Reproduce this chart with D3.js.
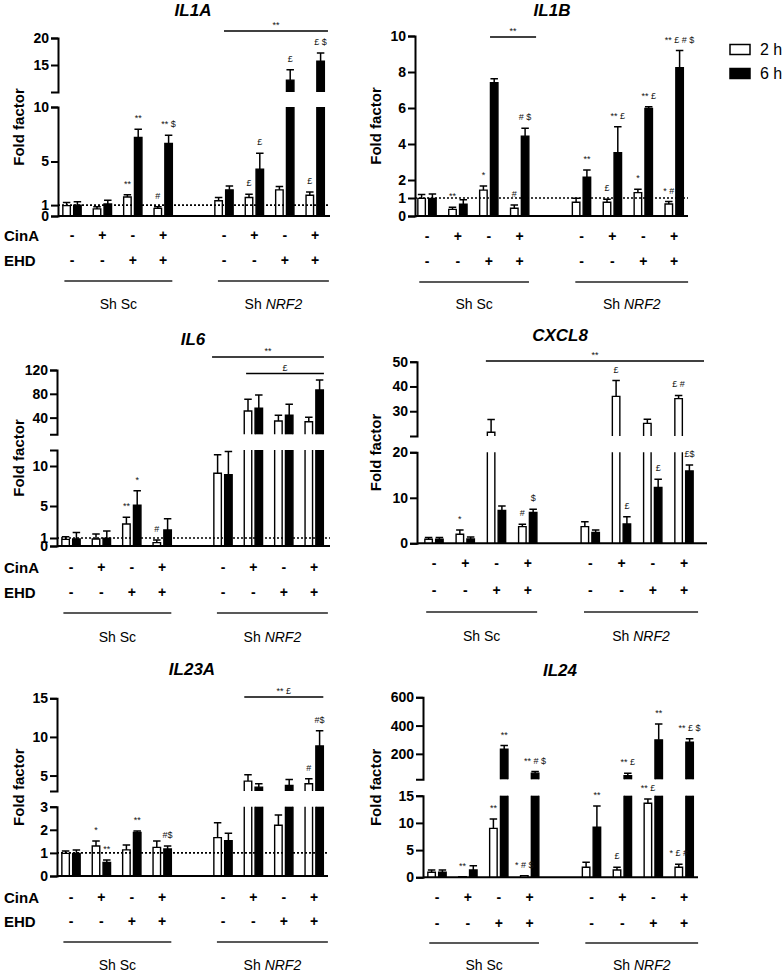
<!DOCTYPE html>
<html>
<head>
<meta charset="utf-8">
<script src="https://cdn.jsdelivr.net/npm/d3@7"></script>
<style>
  body { margin: 0; background: #fff; }
  text { font-family: "Liberation Sans", Arial, sans-serif; fill: #000; }
</style>
</head>
<body>
<svg id="chart" width="782" height="974"></svg>
<script>
// Shared condition layout (slot 4 is the gap between the two groups)
const slots = [0, 1, 2, 3, 5, 6, 7, 8];
const cinA = ["-", "+", "-", "+", "-", "+", "-", "+"];
const ehd = ["-", "-", "+", "+", "-", "-", "+", "+"];
const groupNames = ["Sh Sc", "NRF2"];
const seriesNames = ["2 h", "6 h"];

// IL1A
const il1aMean2h = [0.95, 0.65, 1.75, 0.7, 1.4, 1.7, 2.4, 1.9];
const il1aErr2h = [0.3, 0.2, 0.2, 0.15, 0.3, 0.3, 0.3, 0.3];
const il1aMean6h = [1.0, 1.1, 7.2, 6.65, 2.4, 4.3, 12.2, 15.7];
const il1aErr6h = [0.3, 0.35, 0.75, 0.75, 0.35, 1.45, 1.9, 1.5];
const il1aMarks2h = ["", "", "**", "#", "", "£", "", "£"];
const il1aMarks6h = ["", "", "**", "** $", "", "£", "£", "£ $"];

// IL1B
const il1bMean2h = [0.98, 0.37, 1.44, 0.43, 0.76, 0.76, 1.3, 0.67];
const il1bErr2h = [0.22, 0.11, 0.23, 0.18, 0.22, 0.17, 0.18, 0.13];
const il1bMean6h = [0.98, 0.65, 7.4, 4.44, 2.15, 3.52, 5.98, 8.24];
const il1bErr6h = [0.24, 0.25, 0.23, 0.43, 0.41, 1.44, 0.09, 0.95];
const il1bMarks2h = ["", "**", "*", "#", "", "£", "*", "* #"];
const il1bMarks6h = ["", "", "", "# $", "**", "** £", "** £", "** £ # $"];

// IL6
const il6Mean2h = [0.83, 0.88, 2.75, 0.42, 9.1, 51.1, 34.3, 33.2];
const il6Err2h = [0.34, 0.62, 0.83, 0.33, 2.3, 19.7, 9.6, 7.4];
const il6Mean6h = [0.88, 0.96, 5.1, 2.0, 8.9, 55.7, 43.9, 86.4];
const il6Err6h = [0.82, 0.92, 1.8, 1.4, 2.9, 22.3, 18.5, 16.8];
const il6Marks2h = ["", "", "**", "#", "", "", "", ""];
const il6Marks6h = ["", "", "*", "", "", "", "", ""];

// CXCL8
const cxcl8Mean2h = [0.88, 2.0, 21.5, 3.66, 3.66, 36, 25.1, 35.1];
const cxcl8Err2h = [0.37, 0.9, 5.2, 0.54, 1.1, 6.4, 1.7, 1.3];
const cxcl8Mean6h = [0.88, 0.95, 7.2, 6.8, 2.4, 4.25, 12.3, 15.9];
const cxcl8Err6h = [0.37, 0.45, 1.0, 0.7, 0.5, 1.6, 1.8, 1.3];
const cxcl8Marks2h = ["", "*", "", "#", "", "£", "", "£ #"];
const cxcl8Marks6h = ["", "", "", "$", "", "£", "£", "£$"];

// IL23A
const il23aMean2h = [0.98, 1.3, 1.13, 1.24, 1.66, 4.28, 2.2, 3.94];
const il23aErr2h = [0.1, 0.22, 0.21, 0.28, 0.65, 0.82, 0.44, 0.63];
const il23aMean6h = [0.98, 0.59, 1.88, 1.17, 1.53, 3.5, 3.72, 8.83];
const il23aErr6h = [0.15, 0.1, 0.07, 0.13, 0.32, 0.44, 0.78, 1.97];
const il23aMarks2h = ["", "*", "", "", "", "", "", "#"];
const il23aMarks6h = ["", "**", "**", "#$", "", "", "", "#$"];

// IL24
const il24Mean2h = [0.92, 0.12, 9.0, 0.3, 1.84, 1.35, 13.6, 1.84];
const il24Err2h = [0.43, 0, 1.7, 0, 0.92, 0.49, 0.8, 0.56];
const il24Mean6h = [0.92, 1.35, 233, 63.5, 9.2, 44.7, 299, 282];
const il24Err6h = [0.43, 0.79, 26, 11.5, 3.9, 18.8, 113, 24];
const il24Marks2h = ["", "**", "**", "* # $", "", "£", "** £", "* £ #"];
const il24Marks6h = ["", "", "**", "** # $", "**", "** £", "**", "** £ $"];

// Panel layout
const panels = [
  {title: "IL1A", titleX: 193, titleY: 10,
   series: [[il1aMean2h, il1aErr2h, il1aMarks2h], [il1aMean6h, il1aErr6h, il1aMarks6h]],
   axisX: 58, x0: 72, step: 30.4, xEnd: 330,
   lower: {domain: [0, 10], range: [216, 107], ticks: [0, 1, 5, 10]},
   upper: {domain: [10, 20], range: [92, 38], ticks: [15, 20]},
   dotted: true, labelX: 18, rowLabels: true,
   rowY: [235, 260], groupLineY: 281, groupLabelY: 304,
   sig: [{from: 5, to: 8.42, y: 31, text: "**"}]},
  {title: "IL1B", titleX: 552, titleY: 10,
   series: [[il1bMean2h, il1bErr2h, il1bMarks2h], [il1bMean6h, il1bErr6h, il1bMarks6h]],
   axisX: 415, x0: 427, step: 30.9, xEnd: 688,
   lower: {domain: [0, 10], range: [216, 36], ticks: [0, 1, 2, 4, 6, 8, 10]},
   upper: null,
   dotted: true, labelX: 375, rowLabels: false, legend: true,
   rowY: [236, 261], groupLineY: 282, groupLabelY: 304,
   sig: [{from: 2.04, to: 3.53, y: 37, text: "**"}]},
  {title: "IL6", titleX: 193, titleY: 339,
   series: [[il6Mean2h, il6Err2h, il6Marks2h], [il6Mean6h, il6Err6h, il6Marks6h]],
   axisX: 57, x0: 71, step: 30.4, xEnd: 330,
   lower: {domain: [0, 12], range: [546, 450], ticks: [0, 1, 5, 10]},
   upper: {domain: [12, 120], range: [434.3, 370], ticks: [40, 80, 120]},
   dotted: true, labelX: 18, rowLabels: true,
   rowY: [567, 592], groupLineY: 613, groupLabelY: 637,
   sig: [{from: 4.64, to: 8.32, y: 357, text: "**"},
         {from: 5.76, to: 8.32, y: 373.5, text: "£"}]},
  {title: "CXCL8", titleX: 560, titleY: 335,
   series: [[cxcl8Mean2h, cxcl8Err2h, cxcl8Marks2h], [cxcl8Mean6h, cxcl8Err6h, cxcl8Marks6h]],
   axisX: 417, x0: 434, step: 31.25, xEnd: 707,
   lower: {domain: [0, 20], range: [543.3, 452.3], ticks: [0, 10, 20]},
   upper: {domain: [20, 50], range: [436, 361.7], ticks: [30, 40, 50]},
   dotted: false, labelX: 375, rowLabels: false,
   rowY: [563, 590], groupLineY: 612, groupLabelY: 636,
   sig: [{from: 1.66, to: 8.64, y: 361, text: "**"}]},
  {title: "IL23A", titleX: 192, titleY: 669,
   series: [[il23aMean2h, il23aErr2h, il23aMarks2h], [il23aMean6h, il23aErr6h, il23aMarks6h]],
   axisX: 57, x0: 71, step: 30.4, xEnd: 328,
   lower: {domain: [0, 3], range: [876, 806.7], ticks: [0, 1, 2, 3]},
   upper: {domain: [3, 15], range: [791, 698.3], ticks: [5, 10, 15]},
   dotted: true, labelX: 18, rowLabels: true,
   rowY: [897, 921], groupLineY: 942, groupLabelY: 965,
   sig: [{from: 5.7, to: 8.3, y: 697, text: "** £"}]},
  {title: "IL24", titleX: 560, titleY: 670,
   series: [[il24Mean2h, il24Err2h, il24Marks2h], [il24Mean6h, il24Err6h, il24Marks6h]],
   axisX: 423, x0: 437, step: 30.9, xEnd: 698,
   lower: {domain: [0, 15], range: [877.3, 795.7], ticks: [0, 5, 10, 15]},
   upper: {domain: [20, 600], range: [779.3, 697.3], ticks: [200, 400, 600]},
   dotted: false, labelX: 375, rowLabels: false,
   rowY: [897, 923], groupLineY: 943, groupLabelY: 965,
   sig: []}
];

const svg = d3.select("#chart");
const barWidth = 7.5;
const pairOffset = 5.4;

panels.forEach(drawPanel);

function drawPanel(p) {
  const g = svg.append("g");
  const x = d3.scaleLinear().domain([0, 8]).range([p.x0, p.x0 + 8 * p.step]);
  const yLow = d3.scaleLinear().domain(p.lower.domain).range(p.lower.range);
  const yUp = p.upper ? d3.scaleLinear().domain(p.upper.domain).range(p.upper.range) : null;
  const lowMax = p.lower.domain[1];

  // Title
  g.append("text")
    .attr("x", p.titleX).attr("y", p.titleY)
    .attr("text-anchor", "middle").attr("dominant-baseline", "central")
    .style("font-size", "17px").style("font-weight", "bold").style("font-style", "italic")
    .text(p.title);

  // Y axis segments
  const styleAxis = sel => {
    sel.select(".domain").attr("stroke", "#000").attr("stroke-width", 2);
    sel.selectAll(".tick line").attr("stroke", "#000").attr("stroke-width", 2);
    sel.selectAll(".tick text")
      .style("font-size", "14px").style("font-weight", "bold")
      .style("font-family", "'Liberation Sans', Arial, sans-serif").attr("fill", "#000");
  };
  g.append("g")
    .attr("transform", `translate(${p.axisX},0)`)
    .call(d3.axisLeft(yLow).tickValues(p.lower.ticks).tickSize(7).tickSizeOuter(7).tickPadding(2).tickFormat(d3.format("d")))
    .call(styleAxis);
  if (yUp) {
    g.append("g")
      .attr("transform", `translate(${p.axisX},0)`)
      .call(d3.axisLeft(yUp).tickValues(p.upper.ticks).tickSize(7).tickSizeOuter(7).tickPadding(2).tickFormat(d3.format("d")))
      .call(styleAxis);
  }

  // Y label
  const yTop = yUp ? p.upper.range[1] : p.lower.range[1];
  g.append("text")
    .attr("transform", `translate(${p.labelX},${(yTop + p.lower.range[0]) / 2}) rotate(-90)`)
    .attr("text-anchor", "middle").attr("dominant-baseline", "central")
    .style("font-size", "15px").style("font-weight", "bold")
    .text("Fold factor");

  // Bar records
  const records = [];
  p.series.forEach(([means, errs, marks], s) => {
    means.forEach((v, i) => {
      records.push({s, i, v, e: errs[i], mark: marks[i], cx: x(slots[i]) + (s === 0 ? -pairOffset : pairOffset)});
    });
  });

  const fillOf = d => d.s === 0 ? "#fff" : "#000";

  // Lower part of bars
  g.selectAll("rect.low").data(records).join("rect")
    .attr("class", "low")
    .attr("x", d => d.cx - barWidth / 2)
    .attr("width", barWidth)
    .attr("y", d => yLow(Math.min(d.v, lowMax)))
    .attr("height", d => yLow(0) - yLow(Math.min(d.v, lowMax)))
    .attr("fill", fillOf);

  g.selectAll("path.lowEdge").data(records).join("path")
    .attr("class", "lowEdge")
    .attr("fill", "none").attr("stroke", "#000").attr("stroke-width", 1.4)
    .attr("d", d => {
      const x0 = d.cx - barWidth / 2, x1 = d.cx + barWidth / 2;
      const yb = yLow(0), yt = yLow(Math.min(d.v, lowMax));
      const path = d3.path();
      if (d.v > lowMax) {
        path.moveTo(x0, yb); path.lineTo(x0, yt);
        path.moveTo(x1, yt); path.lineTo(x1, yb);
      } else {
        path.moveTo(x0, yb); path.lineTo(x0, yt); path.lineTo(x1, yt); path.lineTo(x1, yb);
      }
      return path.toString();
    });

  // Upper part of bars
  if (yUp) {
    const upMin = p.upper.domain[0];
    const tall = records.filter(d => d.v > upMin);
    g.selectAll("rect.up").data(tall).join("rect")
      .attr("class", "up")
      .attr("x", d => d.cx - barWidth / 2)
      .attr("width", barWidth)
      .attr("y", d => yUp(d.v))
      .attr("height", d => yUp(upMin) - yUp(d.v))
      .attr("fill", fillOf);
    g.selectAll("path.upEdge").data(tall).join("path")
      .attr("class", "upEdge")
      .attr("fill", "none").attr("stroke", "#000").attr("stroke-width", 1.4)
      .attr("d", d => {
        const x0 = d.cx - barWidth / 2, x1 = d.cx + barWidth / 2;
        const path = d3.path();
        path.moveTo(x0, yUp(upMin)); path.lineTo(x0, yUp(d.v));
        path.lineTo(x1, yUp(d.v)); path.lineTo(x1, yUp(upMin));
        return path.toString();
      });
  }

  const scaleFor = d => (yUp && d.v > lowMax) ? yUp : yLow;

  // Error bars (upper side only)
  g.selectAll("path.err").data(records.filter(d => d.e > 0)).join("path")
    .attr("class", "err")
    .attr("fill", "none").attr("stroke", "#000").attr("stroke-width", 1.5)
    .attr("d", d => {
      const y = scaleFor(d);
      const path = d3.path();
      path.moveTo(d.cx, y(d.v)); path.lineTo(d.cx, y(d.v + d.e));
      path.moveTo(d.cx - barWidth / 2, y(d.v + d.e)); path.lineTo(d.cx + barWidth / 2, y(d.v + d.e));
      return path.toString();
    });

  // Significance marks over bars
  g.selectAll("text.mark").data(records.filter(d => d.mark)).join("text")
    .attr("class", "mark")
    .attr("x", d => d.cx)
    .attr("y", d => scaleFor(d)(d.v + d.e) - 8)
    .attr("text-anchor", "middle")
    .style("font-size", "9px").style("fill", "#111")
    .text(d => d.mark);

  // Baseline
  g.append("line")
    .attr("x1", p.axisX).attr("x2", p.xEnd)
    .attr("y1", yLow(0)).attr("y2", yLow(0))
    .attr("stroke", "#000").attr("stroke-width", 2);

  // Dotted reference at 1
  if (p.dotted) {
    g.append("line")
      .attr("x1", p.axisX).attr("x2", p.xEnd)
      .attr("y1", yLow(1)).attr("y2", yLow(1))
      .attr("stroke", "#000").attr("stroke-width", 1.6)
      .attr("stroke-dasharray", "2,2");
  }

  // Comparison brackets
  p.sig.forEach(b => {
    g.append("line")
      .attr("x1", x(b.from)).attr("x2", x(b.to))
      .attr("y1", b.y).attr("y2", b.y)
      .attr("stroke", "#000").attr("stroke-width", 1.3);
    g.append("text")
      .attr("x", (x(b.from) + x(b.to)) / 2).attr("y", b.y - 3)
      .attr("text-anchor", "middle")
      .style("font-size", "9px").style("fill", "#111")
      .text(b.text);
  });

  // Treatment rows
  [cinA, ehd].forEach((row, r) => {
    g.selectAll(null).data(row).join("text")
      .attr("x", (d, i) => x(slots[i]))
      .attr("y", p.rowY[r])
      .attr("text-anchor", "middle").attr("dominant-baseline", "central")
      .style("font-size", "14px").style("font-weight", "bold")
      .text(d => d);
  });
  if (p.rowLabels) {
    ["CinA", "EHD"].forEach((lab, r) => {
      g.append("text")
        .attr("x", 4).attr("y", p.rowY[r])
        .attr("dominant-baseline", "central")
        .style("font-size", "15px").style("font-weight", "bold")
        .text(lab);
    });
  }

  // Group lines and labels
  const groupSpans = [[-0.25, 3.3], [4.8, 8.45]];
  groupSpans.forEach((span, k) => {
    g.append("line")
      .attr("x1", x(span[0])).attr("x2", x(span[1]))
      .attr("y1", p.groupLineY).attr("y2", p.groupLineY)
      .attr("stroke", "#222").attr("stroke-width", 1.3);
    const t = g.append("text")
      .attr("x", x((span[0] + span[1]) / 2)).attr("y", p.groupLabelY)
      .attr("text-anchor", "middle").attr("dominant-baseline", "central")
      .style("font-size", "14px");
    if (k === 0) {
      t.text(groupNames[0]);
    } else {
      t.append("tspan").text("Sh ");
      t.append("tspan").style("font-style", "italic").text(groupNames[1]);
    }
  });

  // Legend
  if (p.legend) {
    seriesNames.forEach((name, s) => {
      const ly = 49.5 + s * 24;
      g.append("rect")
        .attr("x", 730).attr("y", ly - 5).attr("width", 20).attr("height", 10)
        .attr("fill", s === 0 ? "#fff" : "#000")
        .attr("stroke", "#000").attr("stroke-width", 1.5);
      g.append("text")
        .attr("x", 760).attr("y", ly)
        .attr("dominant-baseline", "central")
        .style("font-size", "16px")
        .text(name);
    });
  }
}
</script>
</body>
</html>
